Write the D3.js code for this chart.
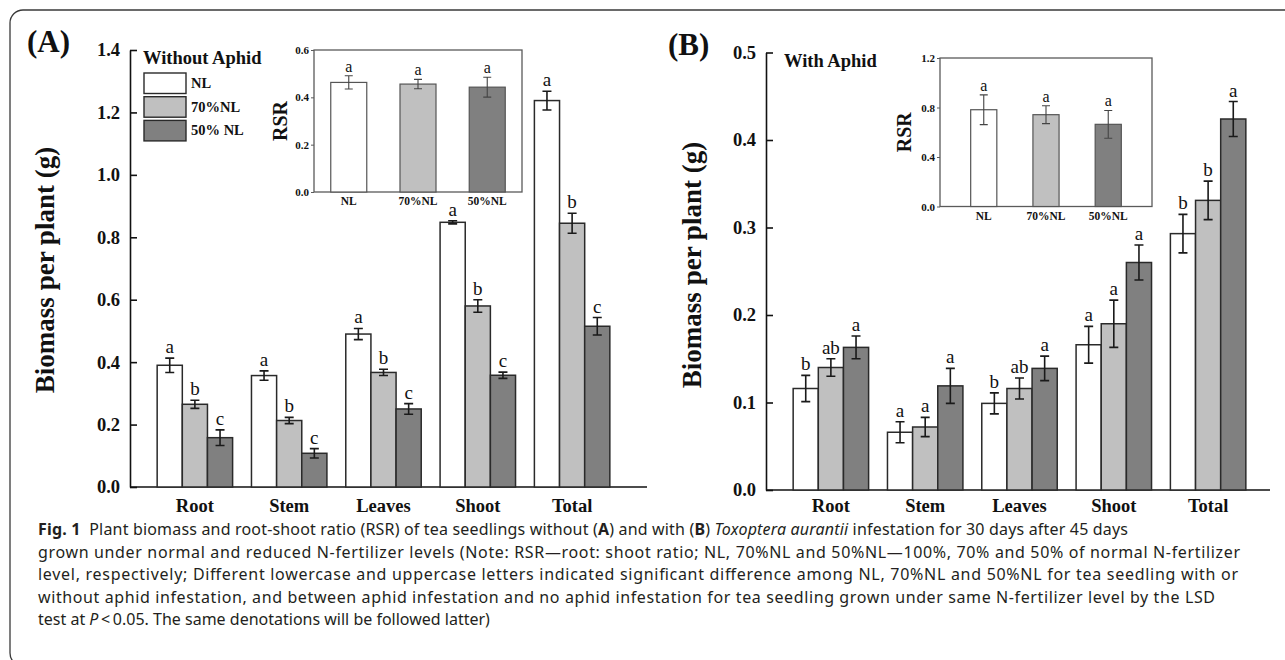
<!DOCTYPE html>
<html>
<head>
<meta charset="utf-8">
<script src="https://cdn.jsdelivr.net/npm/d3@7"></script>
<style>
  body { margin: 0; background: #fff; }
  svg text { font-family: "Liberation Serif", "Times New Roman", serif; fill: #111; }
  svg .caption text { font-family: "Noto Sans", "Open Sans", sans-serif; fill: #231f20; }
</style>
</head>
<body>
<svg id="fig" width="1285" height="660"></svg>
<script>
// ---- data ----
const categories = ["Root", "Stem", "Leaves", "Shoot", "Total"]
const levels = ["NL", "70%NL", "50% NL"]
const insetLevels = ["NL", "70%NL", "50%NL"]

// (A) without aphid
const biomassA_NL = [0.390, 0.357, 0.490, 0.848, 1.238]
const biomassA_70 = [0.265, 0.213, 0.367, 0.580, 0.845]
const biomassA_50 = [0.158, 0.108, 0.250, 0.358, 0.515]
const errA_NL = [0.023, 0.015, 0.018, 0.005, 0.030]
const errA_70 = [0.013, 0.010, 0.010, 0.020, 0.032]
const errA_50 = [0.025, 0.015, 0.017, 0.010, 0.028]
const lettersA_NL = ["a", "a", "a", "a", "a"]
const lettersA_70 = ["b", "b", "b", "b", "b"]
const lettersA_50 = ["c", "c", "c", "c", "c"]

// (B) with aphid
const biomassB_NL = [0.116, 0.066, 0.099, 0.166, 0.293]
const biomassB_70 = [0.140, 0.072, 0.116, 0.190, 0.331]
const biomassB_50 = [0.163, 0.119, 0.139, 0.260, 0.424]
const errB_NL = [0.015, 0.012, 0.012, 0.021, 0.022]
const errB_70 = [0.010, 0.011, 0.012, 0.027, 0.022]
const errB_50 = [0.013, 0.020, 0.014, 0.020, 0.020]
const lettersB_NL = ["b", "a", "b", "a", "b"]
const lettersB_70 = ["ab", "a", "ab", "a", "b"]
const lettersB_50 = ["a", "a", "a", "a", "a"]

// insets: root-shoot ratio
const rsrA = [0.463, 0.456, 0.443]
const rsrErrA = [0.028, 0.020, 0.042]
const rsrB = [0.782, 0.742, 0.664]
const rsrErrB = [0.120, 0.072, 0.112]
const rsrLetters = ["a", "a", "a"]

const ticksA = [0, 0.2, 0.4, 0.6, 0.8, 1.0, 1.2, 1.4]
const ticksB = [0, 0.1, 0.2, 0.3, 0.4, 0.5]
const ticksInsetA = [0, 0.2, 0.4, 0.6]
const ticksInsetB = [0, 0.4, 0.8, 1.2]

const captionLines = [
  [["Fig. 1", "b"], ["  Plant biomass and root-shoot ratio (RSR) of tea seedlings without (", ""], ["A", "b"], [") and with (", ""], ["B", "b"], [") ", ""], ["Toxoptera aurantii", "i"], [" infestation for 30 days after 45 days", ""]],
  [["grown under normal and reduced N-fertilizer levels (Note: RSR\u2014root: shoot ratio; NL, 70%NL and 50%NL\u2014100%, 70% and 50% of normal N-fertilizer", ""]],
  [["level, respectively; Different lowercase and uppercase letters indicated significant difference among NL, 70%NL and 50%NL for tea seedling with or", ""]],
  [["without aphid infestation, and between aphid infestation and no aphid infestation for tea seedling grown under same N-fertilizer level by the LSD", ""]],
  [["test at ", ""], ["P", "i"], ["\u2009<\u20090.05. The same denotations will be followed latter)", ""]]
]

const fills = ["#ffffff", "#c0c0c0", "#808080"]

const svg = d3.select("#fig")

// rounded frame around the figure
svg.append("rect")
  .attr("x", 10).attr("y", 10)
  .attr("width", 1300).attr("height", 656)
  .attr("rx", 13)
  .attr("fill", "none")
  .attr("stroke", "#3a3a3a")
  .attr("stroke-width", 1.3)

function drawMain(o) {
  let g = svg.append("g")
  let x0 = d3.scaleBand()
    .domain(categories)
    .range([o.left, o.left + 507])
    .paddingInner(0.2)
    .paddingOuter(0.288)
  let x1 = d3.scaleBand().domain([0, 1, 2]).range([0, x0.bandwidth()])
  let y = d3.scaleLinear().domain([0, o.ymax]).range([o.bottom, o.top])

  // y axis, ticks pointing in
  let yAxis = g.append("g")
    .attr("transform", "translate(" + o.left + ",0)")
    .call(d3.axisLeft(y).tickValues(o.ticks).tickSizeInner(-7).tickSizeOuter(0)
      .tickPadding(10).tickFormat(d3.format(".1f")))
  yAxis.select(".domain").attr("stroke", "#111").attr("stroke-width", 1.6)
  yAxis.selectAll(".tick line").attr("stroke", "#111").attr("stroke-width", 1.6)
  yAxis.selectAll(".tick text")
    .style("font-size", "18.5px").style("font-weight", "bold")
    .style("font-family", "Liberation Serif").attr("fill", "#111")

  // x axis
  let xAxis = g.append("g")
    .attr("transform", "translate(0," + o.bottom + ")")
    .call(d3.axisBottom(x0).tickSize(0).tickPadding(o.xPad))
  xAxis.select(".domain").remove()
  xAxis.selectAll(".tick text")
    .style("font-size", "18.5px").style("font-weight", "bold")
    .style("font-family", "Liberation Serif").attr("fill", "#111")
  g.append("line")
    .attr("x1", o.left).attr("x2", o.axisEnd)
    .attr("y1", o.bottom).attr("y2", o.bottom)
    .attr("stroke", "#111").attr("stroke-width", 1.6)

  let rows = []
  categories.forEach((c, i) => {
    o.series.forEach((s, j) => {
      rows.push({ cat: c, lev: j, v: s[i], e: o.errs[j][i], t: o.letters[j][i] })
    })
  })
  let grp = g.selectAll(".bar").data(rows).enter().append("g").attr("class", "bar")
  grp.append("rect")
    .attr("x", d => x0(d.cat) + x1(d.lev))
    .attr("y", d => y(d.v))
    .attr("width", x1.bandwidth())
    .attr("height", d => y(0) - y(d.v))
    .attr("fill", d => fills[d.lev])
    .attr("stroke", "#2a2a2a")
    .attr("stroke-width", 1.5)
  let cx = d => x0(d.cat) + x1(d.lev) + x1.bandwidth() / 2
  grp.append("path")
    .attr("d", d => {
      let c = cx(d), t = y(d.v + d.e), b = y(d.v - d.e)
      return "M" + (c - 4.5) + "," + t + "H" + (c + 4.5) + "M" + c + "," + t + "V" + b +
        "M" + (c - 4.5) + "," + b + "H" + (c + 4.5)
    })
    .attr("fill", "none").attr("stroke", "#1a1a1a").attr("stroke-width", 1.6)
  grp.append("text")
    .attr("x", cx)
    .attr("y", d => y(d.v + d.e) - 5)
    .attr("text-anchor", "middle")
    .style("font-size", "19px")
    .text(d => d.t)

  // axis title
  g.append("text")
    .attr("transform", "translate(" + o.titleX + "," + o.titleY + ") rotate(-90)")
    .attr("text-anchor", "middle")
    .attr("dy", "0.35em")
    .style("font-size", "27px").style("font-weight", "bold")
    .text("Biomass per plant (g)")

  // panel letter
  g.append("text")
    .attr("x", o.tagX).attr("y", o.tagY)
    .style("font-size", "31px").style("font-weight", "bold")
    .text(o.tag)

  // legend title
  g.append("text")
    .attr("x", o.legendX).attr("y", o.top + 14)
    .style("font-size", "18.5px").style("font-weight", "bold")
    .text(o.legendTitle)
  return g
}

function drawInset(o) {
  let g = svg.append("g")
  let x = d3.scaleBand().domain(insetLevels).range([o.left, o.right])
    .paddingInner(o.padIn).paddingOuter(o.padOut)
  let y = d3.scaleLinear().domain([0, o.ymax]).range([o.bottom, o.top])

  g.append("rect")
    .attr("x", o.left).attr("y", o.top)
    .attr("width", o.right - o.left).attr("height", o.bottom - o.top)
    .attr("fill", "#fff").attr("stroke", "#5a5a5a").attr("stroke-width", 1.3)

  let yAxis = g.append("g")
    .attr("transform", "translate(" + o.left + ",0)")
    .call(d3.axisLeft(y).tickValues(o.ticks).tickSize(3).tickPadding(2).tickFormat(d3.format(".1f")))
  yAxis.select(".domain").remove()
  yAxis.selectAll(".tick line").attr("stroke", "#5a5a5a")
  yAxis.selectAll(".tick text")
    .style("font-size", "11px").style("font-weight", "bold")
    .style("font-family", "Liberation Serif").attr("fill", "#111")

  let xAxis = g.append("g")
    .attr("transform", "translate(0," + o.bottom + ")")
    .call(d3.axisBottom(x).tickSize(0).tickPadding(5))
  xAxis.select(".domain").remove()
  xAxis.selectAll(".tick text")
    .style("font-size", "11.5px").style("font-weight", "bold")
    .style("font-family", "Liberation Serif").attr("fill", "#111")

  let rows = insetLevels.map((l, j) => ({ lev: l, j: j, v: o.vals[j], e: o.errs[j], t: rsrLetters[j] }))
  let grp = g.selectAll(".ibar").data(rows).enter().append("g").attr("class", "ibar")
  grp.append("rect")
    .attr("x", d => x(d.lev))
    .attr("y", d => y(d.v))
    .attr("width", x.bandwidth())
    .attr("height", d => y(0) - y(d.v))
    .attr("fill", d => fills[d.j])
    .attr("stroke", "#555").attr("stroke-width", 1.2)
  let cx = d => x(d.lev) + x.bandwidth() / 2
  grp.append("path")
    .attr("d", d => {
      let c = cx(d), t = y(d.v + d.e), b = y(d.v - d.e)
      return "M" + (c - 4) + "," + t + "H" + (c + 4) + "M" + c + "," + t + "V" + b +
        "M" + (c - 4) + "," + b + "H" + (c + 4)
    })
    .attr("fill", "none").attr("stroke", "#444").attr("stroke-width", 1.1)
  grp.append("text")
    .attr("x", cx)
    .attr("y", d => y(d.v + d.e) - 4)
    .attr("text-anchor", "middle")
    .style("font-size", "16px")
    .text(d => d.t)

  g.append("text")
    .attr("transform", "translate(" + o.titleX + "," + (o.top + o.bottom) / 2 + ") rotate(-90)")
    .attr("text-anchor", "middle").attr("dy", "0.35em")
    .style("font-size", "20px").style("font-weight", "bold")
    .text("RSR")
}

drawMain({
  left: 130, axisEnd: 647, top: 50, bottom: 487, ymax: 1.4, ticks: ticksA, xPad: 12,
  series: [biomassA_NL, biomassA_70, biomassA_50],
  errs: [errA_NL, errA_70, errA_50],
  letters: [lettersA_NL, lettersA_70, lettersA_50],
  titleX: 45, titleY: 270, tag: "(A)", tagX: 27, tagY: 52,
  legendTitle: "Without Aphid", legendX: 143
})

drawMain({
  left: 766, axisEnd: 1270, top: 52.5, bottom: 490, ymax: 0.5, ticks: ticksB, xPad: 9,
  series: [biomassB_NL, biomassB_70, biomassB_50],
  errs: [errB_NL, errB_70, errB_50],
  letters: [lettersB_NL, lettersB_70, lettersB_50],
  titleX: 692, titleY: 265, tag: "(B)", tagX: 668, tagY: 55,
  legendTitle: "With Aphid", legendX: 784
})

// legend for (A)
let leg = svg.append("g")
levels.forEach((l, j) => {
  leg.append("rect")
    .attr("x", 144).attr("y", 73 + j * 23.7)
    .attr("width", 42).attr("height", 20.5)
    .attr("fill", fills[j]).attr("stroke", "#2a2a2a").attr("stroke-width", 1.4)
  leg.append("text")
    .attr("x", 191).attr("y", 73 + j * 23.7 + 15)
    .style("font-size", "14.5px").style("font-weight", "bold")
    .text(l)
})

drawInset({
  left: 314, right: 522, top: 50, bottom: 192, ymax: 0.6, ticks: ticksInsetA,
  padIn: 0.48, padOut: 0.242, vals: rsrA, errs: rsrErrA, titleX: 280
})
drawInset({
  left: 940, right: 1152, top: 58, bottom: 206.5, ymax: 1.2, ticks: ticksInsetB,
  padIn: 0.58, padOut: 0.493, vals: rsrB, errs: rsrErrB, titleX: 904
})

// caption
let cap = svg.append("g").attr("class", "caption")
let capWidths = [1090, 1202, 1200, 1177, null]
captionLines.forEach((line, i) => {
  let t = cap.append("text")
    .attr("x", 38).attr("y", 535 + i * 22.5)
    .style("font-size", "16px")
  line.forEach(p => {
    let s = t.append("tspan").text(p[0]).attr("xml:space", "preserve").style("white-space", "pre")
    if (p[1] == "b") s.style("font-weight", "bold")
    if (p[1] == "i") s.style("font-style", "italic")
  })
  if (capWidths[i]) t.attr("textLength", capWidths[i]).attr("lengthAdjust", "spacing")
})
</script>
</body>
</html>
